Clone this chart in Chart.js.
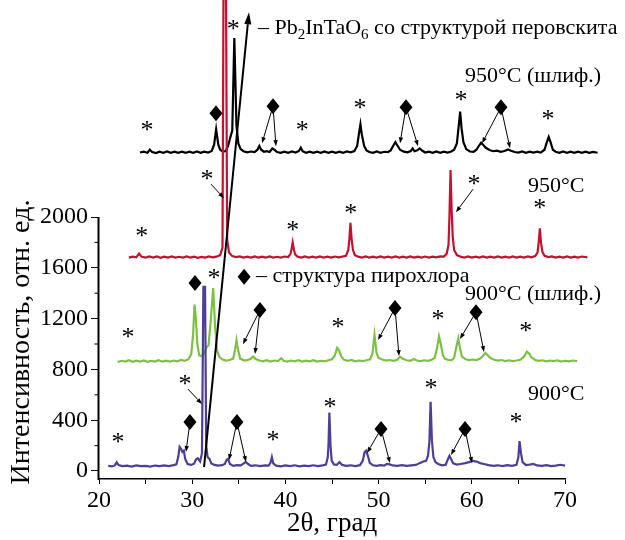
<!DOCTYPE html>
<html>
<head>
<meta charset="utf-8">
<script src="https://cdn.jsdelivr.net/npm/chart.js@4.4.0/dist/chart.umd.min.js"></script>
<style>
  html, body { margin: 0; padding: 0; background: #fff; }
  canvas { display: block; }
</style>
</head>
<body>
<canvas id="xrd" width="625" height="540"></canvas>
<script>
// Diffraction patterns, [2θ, intensity] with vertical offsets already applied
const pattern900 = [
  [21.0, 40], [21.4, 36], [21.7, 44], [21.9, 68], [22.1, 46], [22.5, 38], [23.0, 42], [23.5, 35],
  [24.0, 44], [24.5, 38], [25.0, 41], [25.5, 35], [26.0, 43], [26.5, 38], [27.0, 44], [27.5, 39],
  [28.0, 46], [28.3, 52], [28.5, 110], [28.65, 190], [28.8, 175], [28.95, 150], [29.1, 160], [29.25, 95],
  [29.5, 55], [29.9, 48], [30.2, 58], [30.4, 90], [30.6, 100], [30.85, 75], [31.05, 140], [31.2, 1450],
  [31.38, 1450], [31.5, 200], [31.65, 110], [31.85, 95], [32.05, 60], [32.4, 48], [32.8, 42], [33.2, 46],
  [33.5, 55], [33.7, 88], [33.85, 95], [34.05, 55], [34.4, 40], [34.8, 46], [35.2, 44], [35.5, 58],
  [35.75, 72], [36.0, 55], [36.3, 40], [36.8, 45], [37.3, 38], [37.8, 44], [38.2, 42], [38.4, 65],
  [38.55, 110], [38.7, 60], [39.0, 42], [39.5, 37], [40.0, 44], [40.5, 38], [41.0, 45], [41.5, 36],
  [42.0, 42], [42.5, 38], [43.0, 45], [43.5, 39], [44.0, 44], [44.35, 50], [44.55, 110], [44.63, 220],
  [44.72, 460], [44.84, 200], [44.97, 80], [45.2, 52], [45.5, 48], [45.8, 70], [46.1, 48], [46.5, 40],
  [47.0, 45], [47.5, 38], [48.0, 46], [48.3, 80], [48.5, 150], [48.65, 160], [48.85, 120], [49.05, 65],
  [49.4, 45], [49.8, 40], [50.2, 46], [50.6, 42], [50.9, 56], [51.2, 52], [51.5, 44], [52.0, 40],
  [52.5, 46], [53.0, 40], [53.5, 45], [54.0, 48], [54.4, 62], [54.8, 75], [55.1, 80], [55.3, 120],
  [55.45, 230], [55.58, 545], [55.72, 240], [55.88, 110], [56.1, 70], [56.4, 55], [56.8, 45], [57.2, 50],
  [57.45, 95], [57.6, 120], [57.8, 90], [58.0, 60], [58.4, 50], [58.8, 55], [59.3, 62], [59.7, 70],
  [60.1, 80], [60.5, 74], [60.9, 62], [61.3, 55], [61.8, 46], [62.3, 40], [62.8, 45], [63.3, 38],
  [63.8, 46], [64.3, 40], [64.8, 48], [65.0, 110], [65.12, 235], [65.28, 140], [65.45, 70], [65.8, 46],
  [66.2, 50], [66.6, 56], [67.0, 44], [67.5, 40], [68.0, 46], [68.5, 38], [69.0, 42], [69.5, 49],
  [70.0, 42]
];

const pattern900g = [
  [22.0, 858], [22.4, 868], [22.8, 862], [23.2, 872], [23.6, 860], [24.0, 869], [24.4, 862], [24.8, 871],
  [25.2, 860], [25.6, 868], [26.0, 862], [26.4, 873], [26.8, 861], [27.2, 869], [27.6, 862], [28.0, 870],
  [28.4, 864], [28.8, 874], [29.2, 868], [29.6, 880], [29.9, 920], [30.1, 1080], [30.25, 1310], [30.4, 1200],
  [30.55, 1000], [30.75, 910], [31.0, 905], [31.3, 925], [31.55, 975], [31.75, 990], [31.95, 1150],
  [32.25, 1440], [32.45, 1150], [32.65, 950], [32.9, 900], [33.2, 880], [33.6, 870],
  [34.0, 874], [34.4, 885], [34.6, 960], [34.75, 1030], [34.9, 960], [35.15, 885], [35.6, 870], [36.0, 875],
  [36.3, 885], [36.55, 902], [36.8, 882], [37.2, 870], [37.6, 864], [38.0, 872], [38.4, 862], [38.8, 870],
  [39.2, 866], [39.55, 888], [39.8, 868], [40.2, 862], [40.6, 870], [41.0, 864], [41.4, 872], [41.8, 862],
  [42.2, 869], [42.6, 864], [43.0, 872], [43.4, 862], [43.8, 868], [44.2, 864], [44.6, 872], [45.0, 880],
  [45.3, 910], [45.55, 970], [45.75, 950], [46.0, 900], [46.3, 876], [46.7, 868], [47.1, 874], [47.5, 864],
  [47.9, 870], [48.3, 866], [48.7, 872], [49.1, 880], [49.35, 930], [49.56, 1070], [49.78, 930],
  [50.0, 890], [50.4, 878], [50.8, 870], [51.2, 874], [51.6, 868], [52.0, 876], [52.3, 900], [52.6, 884],
  [53.0, 872], [53.4, 868], [53.8, 882], [54.1, 870], [54.5, 866], [54.9, 872], [55.3, 868], [55.7, 876],
  [56.0, 890], [56.25, 960], [56.48, 1060], [56.7, 990], [56.9, 910], [57.1, 885], [57.4, 876], [57.8, 872],
  [58.1, 890], [58.35, 980], [58.55, 1045], [58.75, 960], [58.95, 900], [59.3, 882], [59.7, 874], [60.1, 878],
  [60.5, 874], [60.9, 885], [61.2, 905], [61.45, 930], [61.7, 912], [62.0, 890], [62.4, 876], [62.8, 870],
  [63.2, 874], [63.6, 866], [64.0, 872], [64.4, 866], [64.8, 870], [65.2, 876], [65.6, 900], [65.9, 940],
  [66.15, 925], [66.4, 895], [66.8, 874], [67.2, 868], [67.6, 872], [68.0, 864], [68.4, 870], [68.8, 866],
  [69.2, 872], [69.6, 862], [70.0, 868], [70.4, 864], [70.8, 870], [71.3, 865]
];

const pattern950 = [
  [23.2, 1680], [23.6, 1688], [24.0, 1682], [24.3, 1712], [24.55, 1688], [25.0, 1680], [25.4, 1690],
  [25.8, 1681], [26.2, 1689], [26.6, 1679], [27.0, 1688], [27.4, 1681], [27.8, 1690], [28.2, 1680],
  [28.6, 1687], [29.0, 1680], [29.4, 1689], [29.8, 1681], [30.2, 1688], [30.6, 1679], [31.0, 1686],
  [31.4, 1680], [31.8, 1690], [32.2, 1682], [32.6, 1688], [33.0, 1700], [33.25, 1760], [33.38, 4200],
  [33.6, 4200], [33.75, 1820], [33.95, 1720], [34.3, 1692], [34.7, 1684], [35.1, 1690], [35.5, 1680],
  [35.9, 1688], [36.3, 1681], [36.7, 1690], [37.1, 1680], [37.5, 1688], [37.9, 1681], [38.3, 1689],
  [38.7, 1680], [39.1, 1687], [39.5, 1681], [39.9, 1689], [40.3, 1685], [40.55, 1710], [40.66, 1750],
  [40.78, 1800], [40.92, 1740], [41.05, 1705], [41.3, 1688], [41.7, 1680], [42.1, 1689], [42.5, 1681],
  [42.9, 1688], [43.3, 1680], [43.7, 1689], [44.1, 1681], [44.5, 1688], [44.9, 1680], [45.3, 1689],
  [45.7, 1682], [46.1, 1688], [46.5, 1695], [46.75, 1740], [46.87, 1830], [46.98, 1955], [47.1, 1830],
  [47.25, 1740], [47.45, 1700], [47.8, 1688], [48.2, 1681], [48.6, 1689], [49.0, 1680], [49.4, 1688],
  [49.8, 1681], [50.2, 1690], [50.6, 1680], [51.0, 1688], [51.4, 1681], [51.8, 1689], [52.2, 1680],
  [52.6, 1688], [53.0, 1681], [53.4, 1690], [53.8, 1680], [54.2, 1688], [54.6, 1681], [55.0, 1689],
  [55.4, 1681], [55.8, 1688], [56.2, 1682], [56.6, 1690], [57.0, 1688], [57.3, 1710], [57.5, 1780],
  [57.6, 2000], [57.72, 2370], [57.84, 2050], [57.95, 1850], [58.1, 1740], [58.4, 1700], [58.8, 1688],
  [59.2, 1681], [59.6, 1689], [60.0, 1680], [60.4, 1688], [60.8, 1681], [61.2, 1689], [61.6, 1680],
  [62.0, 1688], [62.4, 1681], [62.8, 1690], [63.2, 1680], [63.6, 1688], [64.0, 1681], [64.4, 1689],
  [64.8, 1680], [65.2, 1688], [65.6, 1681], [66.0, 1690], [66.4, 1682], [66.8, 1692], [67.05, 1720],
  [67.18, 1800], [67.3, 1910], [67.42, 1800], [67.58, 1725], [67.8, 1695], [68.2, 1684], [68.6, 1690],
  [69.0, 1680], [69.4, 1688], [69.8, 1681], [70.2, 1689], [70.6, 1680], [71.0, 1688], [71.4, 1681],
  [71.8, 1689], [72.4, 1682]
];

const pattern950g = [
  [24.4, 2508], [24.8, 2515], [25.2, 2506], [25.45, 2530], [25.7, 2512], [26.1, 2504], [26.5, 2514],
  [26.9, 2506], [27.3, 2516], [27.7, 2505], [28.1, 2514], [28.5, 2506], [28.9, 2515], [29.3, 2505],
  [29.7, 2514], [30.1, 2506], [30.5, 2516], [30.9, 2505], [31.3, 2514], [31.7, 2508], [32.1, 2520],
  [32.35, 2570], [32.57, 2690], [32.8, 2570], [33.0, 2530], [33.3, 2515], [33.6, 2520],
  [33.85, 2560], [34.1, 2630], [34.3, 2680], [34.52, 3410], [34.75, 2720], [34.95, 2580],
  [35.2, 2535], [35.5, 2518], [35.9, 2510], [36.3, 2516], [36.7, 2512], [37.0, 2530], [37.2, 2560],
  [37.4, 2530], [37.7, 2514], [38.0, 2518], [38.3, 2512], [38.6, 2540], [38.85, 2528], [39.1, 2512],
  [39.5, 2506], [39.9, 2515], [40.3, 2506], [40.7, 2516], [41.1, 2508], [41.45, 2520], [41.65, 2545],
  [41.85, 2518], [42.2, 2506], [42.6, 2515], [43.0, 2505], [43.4, 2514], [43.8, 2506], [44.2, 2516],
  [44.6, 2505], [45.0, 2514], [45.4, 2506], [45.8, 2515], [46.2, 2506], [46.6, 2516], [47.0, 2510],
  [47.4, 2520], [47.7, 2560], [47.9, 2660], [48.05, 2730], [48.2, 2650], [48.45, 2560], [48.7, 2525],
  [49.0, 2512], [49.4, 2506], [49.8, 2516], [50.2, 2506], [50.6, 2514], [51.0, 2512], [51.3, 2525],
  [51.6, 2565], [51.8, 2590], [52.0, 2565], [52.3, 2530], [52.7, 2515], [53.1, 2510], [53.45, 2520],
  [53.65, 2540], [53.85, 2518], [54.15, 2525], [54.4, 2540], [54.7, 2522], [55.0, 2508], [55.4, 2515],
  [55.8, 2506], [56.2, 2516], [56.6, 2506], [57.0, 2514], [57.4, 2508], [57.8, 2516], [58.1, 2530],
  [58.4, 2580], [58.6, 2720], [58.75, 2830], [58.9, 2700], [59.1, 2590], [59.4, 2535], [59.8, 2516],
  [60.2, 2514], [60.5, 2530], [60.8, 2565], [61.0, 2585], [61.2, 2570], [61.5, 2545], [61.9, 2528],
  [62.3, 2518], [62.7, 2522], [63.1, 2514], [63.5, 2520], [63.9, 2532], [64.2, 2522], [64.6, 2512],
  [65.0, 2508], [65.4, 2516], [65.8, 2506], [66.2, 2515], [66.6, 2507], [67.0, 2514], [67.4, 2508],
  [67.8, 2530], [68.05, 2590], [68.25, 2630], [68.45, 2590], [68.7, 2530], [69.0, 2514], [69.4, 2506],
  [69.8, 2516], [70.2, 2506], [70.6, 2514], [71.0, 2505], [71.4, 2515], [71.8, 2506], [72.2, 2514],
  [72.6, 2505], [73.0, 2513], [73.5, 2506]
];

const xRange = [20, 70];
const yTickValues = [0, 400, 800, 1200, 1600, 2000];
const yMinorValues = [200, 600, 1000, 1400, 1800];

// perovskite reflections (*)
const stars = [
  [25.15, 2715], [34.4, 3510], [41.8, 2715], [48.0, 2888], [58.84, 2951], [68.18, 2802],
  [24.6, 1881], [31.6, 2330], [40.8, 1928], [47.0, 2062], [60.24, 2290], [67.3, 2101],
  [23.1, 1086], [32.34, 1550], [45.64, 1165], [56.37, 1228], [65.8, 1133],
  [22.04, 260], [29.23, 716], [38.67, 275], [44.79, 535], [55.62, 685], [64.74, 417]
];

// pyrochlore reflections (◆)
const diamonds = [
  [32.55, 2817], [38.67, 2873], [52.94, 2865], [63.13, 2865],
  [30.3, 1480], [37.27, 1267], [51.76, 1283], [60.45, 1251],
  [29.76, 386], [34.8, 386], [50.26, 331], [59.27, 331]
];

// thin pointers: [from 2θ, from I, to 2θ, to I]
const pointers = [
  [38.67, 2873, 37.49, 2581], [38.67, 2873, 38.99, 2558],
  [52.94, 2865, 52.3, 2581], [52.94, 2865, 54.23, 2558],
  [63.13, 2865, 61.1, 2581], [63.13, 2865, 64.1, 2542],
  [32.02, 2259, 33.41, 2148], [60.13, 2219, 58.3, 2038],
  [37.27, 1267, 35.45, 999], [37.27, 1267, 36.74, 921],
  [51.76, 1283, 49.94, 1031], [51.76, 1283, 52.19, 905],
  [60.45, 1251, 58.73, 1039], [60.45, 1251, 61.31, 937],
  [29.55, 645, 31.05, 527],
  [29.76, 386, 29.33, 150],
  [34.8, 386, 33.95, 87], [34.8, 386, 35.77, 71],
  [50.26, 331, 48.76, 142], [50.26, 331, 51.22, 63],
  [59.27, 331, 57.77, 126], [59.27, 331, 60.02, 63]
];

// long arrow through the main perovskite peaks
const mainArrow = [31.27, 31, 36.09, 3612];

const curveLabels = [
  ['950°C (шлиф.)', 59.27, 3109],
  ['950°C', 66.03, 2243],
  ['900°C (шлиф.)', 59.27, 1393],
  ['900°C', 66.03, 606]
];

const SERIF = '"Liberation Serif", "DejaVu Serif", serif';

function toXY(arr) {
  return arr.map(p => ({ x: p[0], y: p[1] }));
}

function drawArrow(ctx, x1, y1, x2, y2, width, headLen, headHalf) {
  const ang = Math.atan2(y2 - y1, x2 - x1);
  const bx = x2 - headLen * Math.cos(ang);
  const by = y2 - headLen * Math.sin(ang);
  ctx.lineWidth = width;
  ctx.beginPath();
  ctx.moveTo(x1, y1);
  ctx.lineTo(bx, by);
  ctx.stroke();
  ctx.beginPath();
  ctx.moveTo(x2, y2);
  ctx.lineTo(bx + headHalf * Math.sin(ang), by - headHalf * Math.cos(ang));
  ctx.lineTo(bx - headHalf * Math.sin(ang), by + headHalf * Math.cos(ang));
  ctx.closePath();
  ctx.fill();
}

function drawDiamond(ctx, cx, cy) {
  ctx.beginPath();
  ctx.moveTo(cx, cy - 8);
  ctx.lineTo(cx + 6.5, cy);
  ctx.lineTo(cx, cy + 8);
  ctx.lineTo(cx - 6.5, cy);
  ctx.closePath();
  ctx.fill();
}

function drawStar(ctx, cx, cy) {
  ctx.font = '26px ' + SERIF;
  const m = ctx.measureText('*');
  ctx.textAlign = 'center';
  ctx.textBaseline = 'alphabetic';
  ctx.fillText('*', cx, cy + (m.actualBoundingBoxAscent - m.actualBoundingBoxDescent) / 2);
}

// text runs with subscripts: [string, isSub]
function drawRuns(ctx, runs, x, y, size) {
  ctx.textAlign = 'left';
  ctx.textBaseline = 'middle';
  let cx = x;
  runs.forEach(([s, sub]) => {
    ctx.font = (sub ? Math.round(size * 0.68) : size) + 'px ' + SERIF;
    ctx.fillText(s, cx, sub ? y + size * 0.3 : y);
    cx += ctx.measureText(s).width;
  });
}

const markup = {
  id: 'markup',
  afterDraw(chart) {
    const { ctx, chartArea, scales: { x, y } } = chart;
    const px = v => x.getPixelForValue(v);
    const py = v => y.getPixelForValue(v);
    ctx.save();
    ctx.fillStyle = '#000';
    ctx.strokeStyle = '#000';

    // left axis line up to the last labelled tick, plus minor ticks
    const ax = Math.round(chartArea.left) - 0.5;
    ctx.lineWidth = 2;
    ctx.beginPath();
    ctx.moveTo(ax, chartArea.bottom + 1);
    ctx.lineTo(ax, py(2000));
    ctx.stroke();
    ctx.lineWidth = 1;
    yMinorValues.forEach(v => {
      ctx.beginPath();
      ctx.moveTo(ax - 4, py(v));
      ctx.lineTo(ax, py(v));
      ctx.stroke();
    });

    pointers.forEach(p => drawArrow(ctx, px(p[0]), py(p[1]), px(p[2]), py(p[3]), 1, 6, 2.2));
    drawArrow(ctx, px(mainArrow[0]), py(mainArrow[1]), px(mainArrow[2]), py(mainArrow[3]), 2, 12, 3.5);

    diamonds.forEach(d => drawDiamond(ctx, px(d[0]), py(d[1])));
    stars.forEach(s => drawStar(ctx, px(s[0]), py(s[1])));

    // curve captions
    ctx.font = '22px ' + SERIF;
    ctx.textAlign = 'left';
    ctx.textBaseline = 'middle';
    curveLabels.forEach(l => ctx.fillText(l[0], px(l[1]), py(l[2])));

    // keys for the two phases
    drawRuns(ctx, [['– Pb', false], ['2', true], ['InTaO', false], ['6', true], [' со структурой перовскита', false]],
      px(37.06), py(3486), 22);
    drawDiamond(ctx, px(35.57), py(1530));
    drawRuns(ctx, [['– структура пирохлора', false]], px(36.85), py(1530), 22);

    // axis titles
    ctx.textAlign = 'center';
    ctx.textBaseline = 'middle';
    ctx.font = '27px ' + SERIF;
    ctx.fillText('2θ, град', (chartArea.left + chartArea.right) / 2, 524);
    ctx.font = '28px ' + SERIF;
    ctx.translate(22, 342);
    ctx.rotate(-Math.PI / 2);
    ctx.fillText('Интенсивность, отн. ед.', 0, 0);
    ctx.restore();
  }
};

const series = (data, color) => ({
  data: toXY(data),
  borderColor: color,
  borderWidth: 2.2,
  pointRadius: 0,
  tension: 0,
  fill: false,
  clip: false
});

new Chart(document.getElementById('xrd'), {
  type: 'line',
  data: {
    datasets: [
      series(pattern900, '#4b3f98'),
      series(pattern900g, '#7cc242'),
      series(pattern950, '#c8102e'),
      series(pattern950g, '#000000')
    ]
  },
  options: {
    responsive: false,
    animation: false,
    layout: { padding: { left: 0, right: 60, top: 0, bottom: 0 } },
    plugins: { legend: { display: false }, tooltip: { enabled: false } },
    scales: {
      x: {
        type: 'linear',
        // range set after data limits so traces running past 70° are still drawn
        afterDataLimits: s => { s.min = xRange[0]; s.max = xRange[1]; },
        afterFit: s => { s.height = 61; s.paddingLeft = 0; s.paddingRight = 0; },
        ticks: {
          stepSize: 5,
          autoSkip: false,
          maxRotation: 0,
          padding: 2,
          color: '#000',
          font: { family: SERIF, size: 24 },
          callback: v => (v % 10 === 0 ? String(v) : '')
        },
        grid: { drawOnChartArea: false, tickLength: 5, color: '#000' },
        border: { color: '#000', width: 1.5 }
      },
      y: {
        type: 'linear',
        min: -63,
        max: 3709,
        afterFit: s => { s.width = 99; s.paddingTop = 0; s.paddingBottom = 0; },
        afterBuildTicks: s => { s.ticks = yTickValues.map(v => ({ value: v })); },
        ticks: {
          padding: 3,
          color: '#000',
          font: { family: SERIF, size: 24 },
          callback: v => String(v)
        },
        grid: { drawOnChartArea: false, tickLength: 8, color: '#000' },
        border: { display: false }
      }
    }
  },
  plugins: [markup]
});
</script>
</body>
</html>
